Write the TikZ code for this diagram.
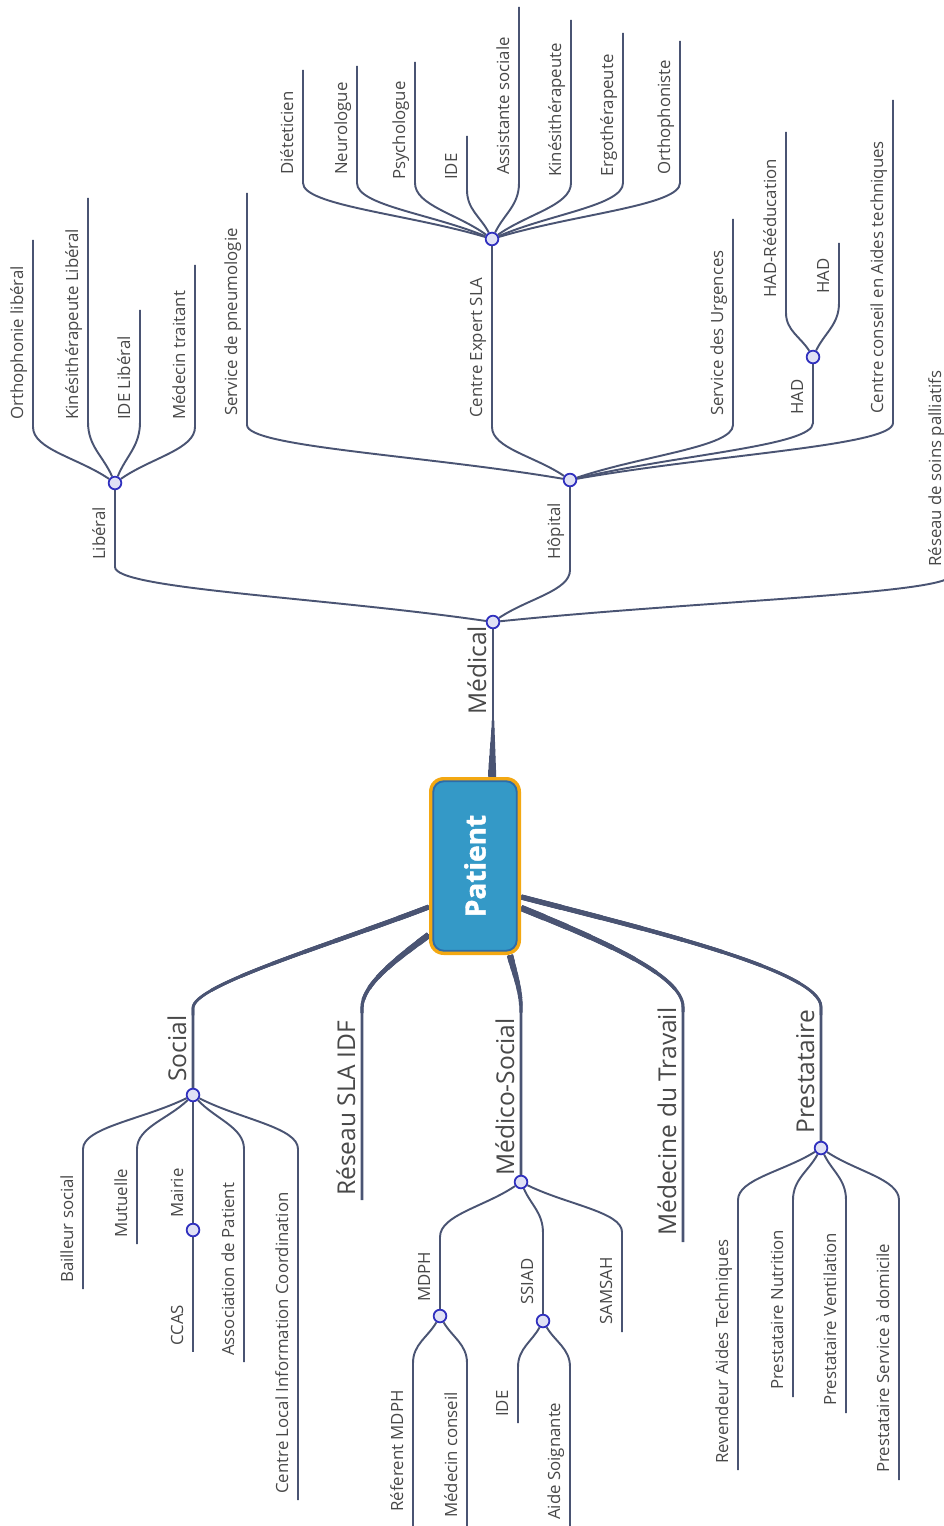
\documentclass[tikz,border=0pt]{standalone}
\usepackage{fontspec}
\setmainfont{Open Sans}
\newfontfamily\heavyfont{Open Sans}[BoldFeatures={FakeBold=1.6}]
\usetikzlibrary{calc}
\definecolor{lc}{RGB}{74,84,115}
\definecolor{dc}{RGB}{48,48,190}
\definecolor{df}{RGB}{224,225,245}
\definecolor{tc}{RGB}{72,72,72}
\definecolor{pfill}{RGB}{52,153,199}
\definecolor{pring}{RGB}{44,108,170}
\definecolor{porange}{RGB}{243,168,18}
\pgfdeclarelayer{bg}
\pgfsetlayers{bg,main}
\tikzset{
 edge/.style={draw=lc, line width=1.45pt},
 dot/.style={circle, draw=dc, fill=df, line width=1.35pt, minimum size=9.5pt, inner sep=0pt},
 lab/.style={rotate=90, anchor=base west, inner sep=0pt, text=tc, font=\fontsize{12.6}{14}\selectfont},
 big/.style={lab, font=\fontsize{18.4}{21}\selectfont},
}
% tapered stroke: #1 start width, #2 end width, #3 taper length (pt), #4 path
\newcommand{\tpr}[4]{%
 \foreach \ii in {0,...,7}{%
  \pgfmathsetmacro{\tpw}{#1-(#1-#2)*\ii/8}%
  \pgfmathsetmacro{\tplen}{#3*(\ii+1)/8}%
  \draw[lc, line width=\tpw pt, dash pattern=on \tplen pt off 5000pt] #4;}%
 \draw[lc, line width=#2pt] #4;}
% branch from parent node #1 to child node #2 through corner (#3,#4)
\newcommand{\jbr}[4]{%
 \coordinate (#2c) at (#3,#4);
 \begin{pgfonlayer}{bg}\draw[edge] (#1) .. controls ($(#1)!0.45!(#2c)$) and ($(#2c)!0.4!(#2c|-#1)$) .. (#2c) -- (#2);\end{pgfonlayer}}
% leaf: #1 parent, #2 name, #3 x, #4 corner y, #5 end y, #6 label bottom y, #7 text
\newcommand{\lfbr}[7]{%
 \coordinate (#2c) at (#3,#4);
 \coordinate (#2e) at (#3,#5);
 \begin{pgfonlayer}{bg}\draw[edge] (#1) .. controls ($(#1)!0.45!(#2c)$) and ($(#2c)!0.4!(#2c|-#1)$) .. (#2c) -- (#2e);\end{pgfonlayer}
 \node[lab] (#2) at (#3-10,#6) {#7};}
\begin{document}
\begin{tikzpicture}[x=0.75pt,y=-0.75pt]
\useasboundingbox (0,0) rectangle (943,1526);
% junction dots
\node[dot] (M) at (493,622) {};
\node[dot] (L) at (115,483) {};
\node[dot] (H) at (570,480) {};
\node[dot] (CE) at (492,239) {};
\node[dot] (HADn) at (813,357) {};
\node[dot] (S) at (193,1095) {};
\node[dot] (MA) at (193,1230) {};
\node[dot] (MS) at (521,1182) {};
\node[dot] (MDPHn) at (440,1316) {};
\node[dot] (SSIADn) at (543,1321) {};
\node[dot] (P) at (821,1148) {};
% central node
\node[fill=porange, rounded corners=11pt, minimum width=69pt, minimum height=133.5pt, inner sep=0pt] (patient) at (475,866) {};
\filldraw[fill=pfill, draw=pring, line width=1.4pt, rounded corners=8pt] ($(patient.south west)+(4.5,-4.5)$) rectangle ($(patient.north east)+(-4.5,4.5)$);
\node[rotate=90, text=white, font=\heavyfont\bfseries\fontsize{21}{24}\selectfont] (pt) at (patient) {Patient};
% main branches
\coordinate (RSc) at (362,1008);
\coordinate (RSe) at (362,1200);
\coordinate (MTc) at (683,1007);
\coordinate (MTe) at (683,1242);
\begin{pgfonlayer}{bg}
\tpr{6}{1.4}{42}{($(patient.north)+(17,0)$) .. controls (492.5,750) and (493,735) .. (493,722) -- (M)}
\tpr{3.8}{1.9}{200}{($(patient.west)+(0,41)$) .. controls (330,945) and (193,985) .. (193,1008) -- (S)}
\tpr{4.8}{2.1}{80}{($(patient.west)+(0,69)$) .. controls (395,960) and (362,985) .. (RSc) -- (RSe)}
\tpr{4.8}{2.1}{44}{($(patient.south)+(35,0)$) .. controls (515,975) and (521,990) .. (521,1010) -- (MS)}
\tpr{4.8}{1.9}{150}{($(patient.east)+(0,42)$) .. controls (600,940) and (683,975) .. (MTc) -- (MTe)}
\tpr{4}{1.9}{250}{($(patient.east)+(0,31)$) .. controls (640,928) and (821,970) .. (821,1007) -- (P)}
\end{pgfonlayer}
\node[big] (lmed) at (486,715) {Médical};
\node[big] (lsoc) at (186,1082) {Social};
\node[big] (lres) at (355,1196) {Réseau SLA IDF};
\node[big] (lms) at (514,1176) {Médico-Social};
\node[big] (lmt) at (676,1236) {Médecine du Travail};
\node[big] (lpre) at (814,1134) {Prestataire};
% Medical
\jbr{M}{L}{115}{567}
\jbr{M}{H}{570}{570}
\lfbr{M}{rsp}{951}{575}{300}{567}{Réseau de soins palliatifs}
\node[lab] (llib) at (105,560) {Libéral};
\node[lab] (lhop) at (560,560) {Hôpital};
% Liberal
\lfbr{L}{orth}{33}{427}{240}{420}{Orthophonie libéral}
\lfbr{L}{kinl}{88}{422}{198}{420}{Kinésithérapeute Libéral}
\lfbr{L}{idel}{140}{422}{310}{420}{IDE Libéral}
\lfbr{L}{medt}{195}{427}{265}{420}{Médecin traitant}
% Hopital
\lfbr{H}{pneumo}{247}{425}{193}{416}{Service de pneumologie}
\jbr{H}{CE}{492}{427}
\lfbr{H}{urg}{733}{425}{219}{416}{Service des Urgences}
\jbr{H}{HADn}{813}{423}
\lfbr{H}{ccat}{893}{423}{100}{414}{Centre conseil en Aides techniques}
\node[lab] (lce) at (482,418) {Centre Expert SLA};
\node[lab] (lhad) at (803,415) {HAD};
% HAD
\lfbr{HADn}{hadr}{786}{313}{132}{298}{HAD-Rééducation}
\lfbr{HADn}{hadd}{839}{303}{243}{294}{HAD}
% Centre Expert
\lfbr{CE}{diet}{303}{183}{70}{175}{Diéteticien}
\lfbr{CE}{neur}{357}{183}{66}{175}{Neurologue}
\lfbr{CE}{psy}{415}{183}{62}{180}{Psychologue}
\lfbr{CE}{ide1}{467}{190}{136}{180}{IDE}
\lfbr{CE}{assi}{519}{183}{7}{175}{Assistante sociale}
\lfbr{CE}{kine}{571}{183}{20}{177}{Kinésithérapeute}
\lfbr{CE}{ergo}{623}{183}{33}{177}{Ergothérapeute}
\lfbr{CE}{ortho}{680}{183}{41}{175}{Orthophoniste}
% Social
\lfbr{S}{bail}{83}{1149}{1289}{1283}{Bailleur social}
\lfbr{S}{mut}{137}{1149}{1244}{1238}{Mutuelle}
\coordinate (ccase) at (193,1352);
\begin{pgfonlayer}{bg}
\draw[edge] (S) -- (MA);
\draw[edge] (MA) -- (ccase);
\end{pgfonlayer}
\node[lab] (lmai) at (183,1218) {Mairie};
\node[lab] (lccas) at (183,1346) {CCAS};
\lfbr{S}{asso}{244}{1149}{1362}{1356}{Association de Patient}
\lfbr{S}{clic}{298}{1149}{1500}{1494}{Centre Local Information Coordination}
% Medico-Social
\jbr{MS}{MDPHn}{440}{1237}
\jbr{MS}{SSIADn}{543}{1233}
\lfbr{MS}{samsah}{622}{1232}{1332}{1325}{SAMSAH}
\node[lab] (lmdph) at (430,1302) {MDPH};
\node[lab] (lssiad) at (533,1305) {SSIAD};
\lfbr{MDPHn}{refm}{413}{1363}{1530}{1512}{Réferent MDPH}
\lfbr{MDPHn}{medc}{467}{1363}{1530}{1518}{Médecin conseil}
\lfbr{SSIADn}{ide3}{518}{1367}{1423}{1417}{IDE}
\lfbr{SSIADn}{aides}{570}{1367}{1530}{1520}{Aide Soignante}
% Prestataire
\lfbr{P}{rev}{738}{1200}{1470}{1464}{Revendeur Aides Techniques}
\lfbr{P}{pnut}{793}{1200}{1397}{1390}{Prestataire Nutrition}
\lfbr{P}{pven}{846}{1200}{1413}{1406}{Prestataire Ventilation}
\lfbr{P}{psad}{899}{1200}{1480}{1473}{Prestataire Service à domicile}
\end{tikzpicture}
\end{document}
